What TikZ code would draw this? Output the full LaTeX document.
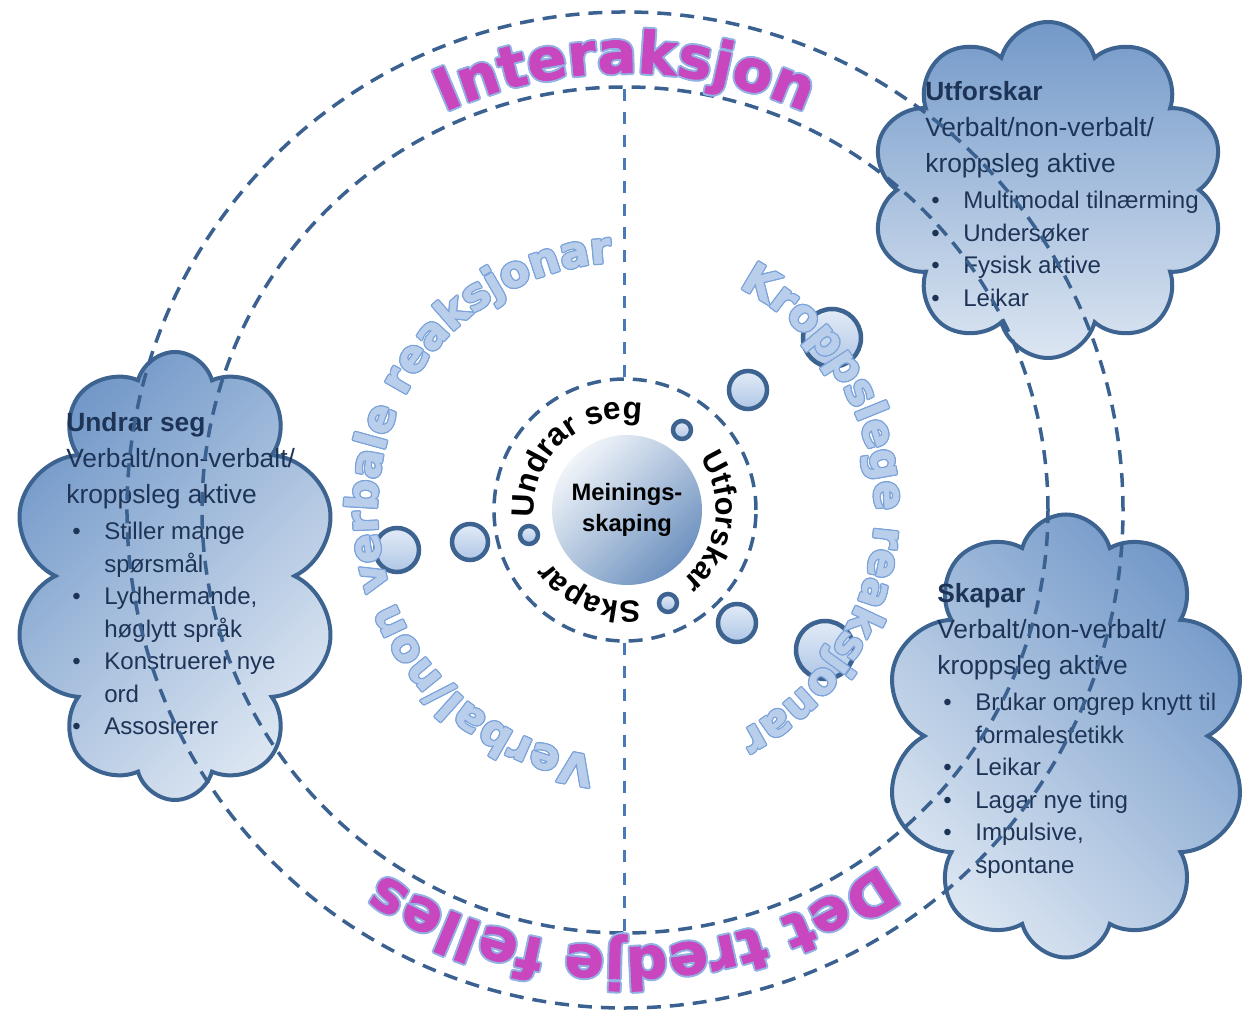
\documentclass[tikz,border=0pt]{standalone}
\usepackage{fontspec}
\setmainfont{Liberation Sans}
\newfontfamily\heavyfont{DejaVu Sans Bold}[FakeBold=1.5]
\usetikzlibrary{shapes.symbols,decorations.text}

\definecolor{ringblue}{HTML}{3B6190}
\definecolor{axisblue}{HTML}{4A7AB5}
\definecolor{cloudedge}{HTML}{3D6391}
\definecolor{clouddark}{HTML}{7399C9}
\definecolor{cloudlight}{HTML}{DCE6F2}
\definecolor{inktext}{HTML}{1E3457}
\definecolor{pink}{HTML}{C847BE}
\definecolor{glow}{HTML}{93B2E4}
\definecolor{palefill}{HTML}{B9CEEB}
\definecolor{paleedge}{HTML}{7BA3DA}

\newcommand{\bul}{\makebox[7.6mm][l]{\hspace{1.2mm}\textbullet}}
\newcommand{\ind}{\hspace*{7.6mm}}
\newcommand{\itemsize}{\fontsize{13.7}{18.5}\selectfont}

\begin{document}
\begin{tikzpicture}[x=0.2mm, y=0.2mm,
    ringnode/.style={circle, draw=ringblue, line width=0.7mm, dash pattern=on 2.8mm off 1.8mm, inner sep=0pt},
    axis/.style={draw=axisblue, line width=0.6mm, dash pattern=on 2.4mm off 2.2mm},
    bubble/.style={circle, draw=cloudedge, line width=0.9mm, inner sep=0pt, top color=white!60!palefill, bottom color=palefill!85!clouddark},
    thought/.style={cloud, cloud puffs=10, cloud ignores aspect, draw=cloudedge, line width=0.8mm, top color=clouddark, bottom color=cloudlight},
    cloudtext/.style={anchor=north west, align=left, text=inktext, font=\fontsize{15}{18.5}\selectfont, inner sep=0pt},
    ringtext/.style={decorate, decoration={text along path, text align=center, text={#1}}}]
    \useasboundingbox (-625,-502) rectangle (623,510);

    % clouds
    \node[thought, minimum width=70.6mm, minimum height=67.2mm] (explore) at (423,320) {};
    \node[thought, shading angle=45, minimum width=65mm, minimum height=89.6mm] (wonder) at (-450,-66) {};
    \node[thought, shading angle=-45, minimum width=72.6mm, minimum height=88.6mm] (create) at (441,-226) {};

    \node[cloudtext] (explore text) at (300,429) {\textbf{Utforskar}\\[2pt]
        Verbalt/non-verbalt/\\[2pt]
        kroppsleg aktive\\[2pt]
        \itemsize\bul Multimodal tilnærming\\
        \itemsize\bul Undersøker\\
        \itemsize\bul Fysisk aktive\\
        \itemsize\bul Leikar};
    \node[cloudtext] (wonder text) at (-559,98) {\textbf{Undrar seg}\\[2pt]
        Verbalt/non-verbalt/\\[2pt]
        kroppsleg aktive\\[2pt]
        \itemsize\bul Stiller mange\\
        \itemsize\ind spørsmål\\
        \itemsize\bul Lydhermande,\\
        \itemsize\ind høglytt språk\\
        \itemsize\bul Konstruerer nye\\
        \itemsize\ind ord\\
        \itemsize\bul Assosierer};
    \node[cloudtext] (create text) at (312,-73) {\textbf{Skapar}\\[2pt]
        Verbalt/non-verbalt/\\[2pt]
        kroppsleg aktive\\[2pt]
        \itemsize\bul Brukar omgrep knytt til\\
        \itemsize\ind formalestetikk\\
        \itemsize\bul Leikar\\
        \itemsize\bul Lagar nye ting\\
        \itemsize\bul Impulsive,\\
        \itemsize\ind spontane};

    % rings
    \node[ringnode, minimum size=199.2mm] (outer) at (0,0) {};
    \node[ringnode, minimum size=169.2mm] (frame) at (0,0) {};
    \node[ringnode, minimum size=52.4mm] (core ring) at (0,0) {};
    \draw[axis] (core ring.north) -- (frame.north);
    \draw[axis] (core ring.south) -- (frame.south);

    % bubbles
    \node[bubble, minimum size=8.8mm] (b1) at (-228,-40) {};
    \node[bubble, minimum size=7.2mm] (b2) at (-155,-32) {};
    \node[bubble, minimum size=3.6mm] (b3) at (-96,-25) {};
    \node[bubble, minimum size=3.6mm] (b4) at (57,80) {};
    \node[bubble, minimum size=7.6mm] (b5) at (123,120) {};
    \node[bubble, minimum size=11.6mm] (b6) at (207,172) {};
    \node[bubble, minimum size=3.6mm] (b7) at (43,-93) {};
    \node[bubble, minimum size=7.6mm] (b8) at (112,-113) {};
    \node[bubble, minimum size=11.6mm] (b9) at (200,-140) {};

    \node[circle, minimum size=30mm, inner sep=0pt, top color=white!90!clouddark, bottom color=clouddark!95!black, shading angle=45,
        align=center, font=\bfseries\fontsize{13.5}{17.5}\selectfont] (hub) at (2,0) {Meinings-\\skaping};

    % inner ring words
    \path[ringtext={|\bfseries\fontsize{18}{20}\selectfont|Undrar seg}] (200:91) arc[start angle=200, end angle=64, radius=91];
    \path[ringtext={|\bfseries\fontsize{17.5}{20}\selectfont|Utforskar}] (50:91) arc[start angle=50, end angle=-66, radius=91];
    \path[ringtext={|\bfseries\fontsize{17.5}{20}\selectfont|Skapar}] (-60:91) arc[start angle=-60, end angle=-166, radius=91];

    % reaction words
    \foreach \dx/\dy in {1.3/0,-1.3/0,0/1.3,0/-1.3,0.9/0.9,-0.9/0.9,0.9/-0.9,-0.9/-0.9} {
        \path[shift={(\dx,\dy)}, ringtext={|\heavyfont\fontsize{24.5}{26}\selectfont\color{paleedge}|Verbal/non verbale reaksjonar}] (270:248) arc[start angle=270, end angle=86, radius=248];
        \path[shift={(\dx,\dy)}, ringtext={|\heavyfont\fontsize{24.5}{26}\selectfont\color{paleedge}|Kroppslege reaksjonar}] (72:250) arc[start angle=72, end angle=-72, radius=250];
    }
    \path[ringtext={|\heavyfont\fontsize{24.5}{26}\selectfont\color{palefill}|Verbal/non verbale reaksjonar}] (270:248) arc[start angle=270, end angle=86, radius=248];
    \path[ringtext={|\heavyfont\fontsize{24.5}{26}\selectfont\color{palefill}|Kroppslege reaksjonar}] (72:250) arc[start angle=72, end angle=-72, radius=250];

    % outer words
    \foreach \dx/\dy in {2/0,-2/0,0/2,0/-2,1.4/1.4,-1.4/1.4,1.4/-1.4,-1.4/-1.4} {
        \path[shift={(\dx,\dy)}, ringtext={|\heavyfont\fontsize{33}{36}\selectfont\color{glow}|Interaksjon}] (150:437) arc[start angle=150, end angle=30, radius=437];
        \path[shift={(\dx,\dy)}, ringtext={|\heavyfont\fontsize{33}{36}\selectfont\color{glow}|Det tredje felles}] (-18:437) arc[start angle=-18, end angle=-160, radius=437];
    }
    \path[ringtext={|\heavyfont\fontsize{33}{36}\selectfont\color{pink}|Interaksjon}] (150:437) arc[start angle=150, end angle=30, radius=437];
    \path[ringtext={|\heavyfont\fontsize{33}{36}\selectfont\color{pink}|Det tredje felles}] (-18:437) arc[start angle=-18, end angle=-160, radius=437];
\end{tikzpicture}
\end{document}
